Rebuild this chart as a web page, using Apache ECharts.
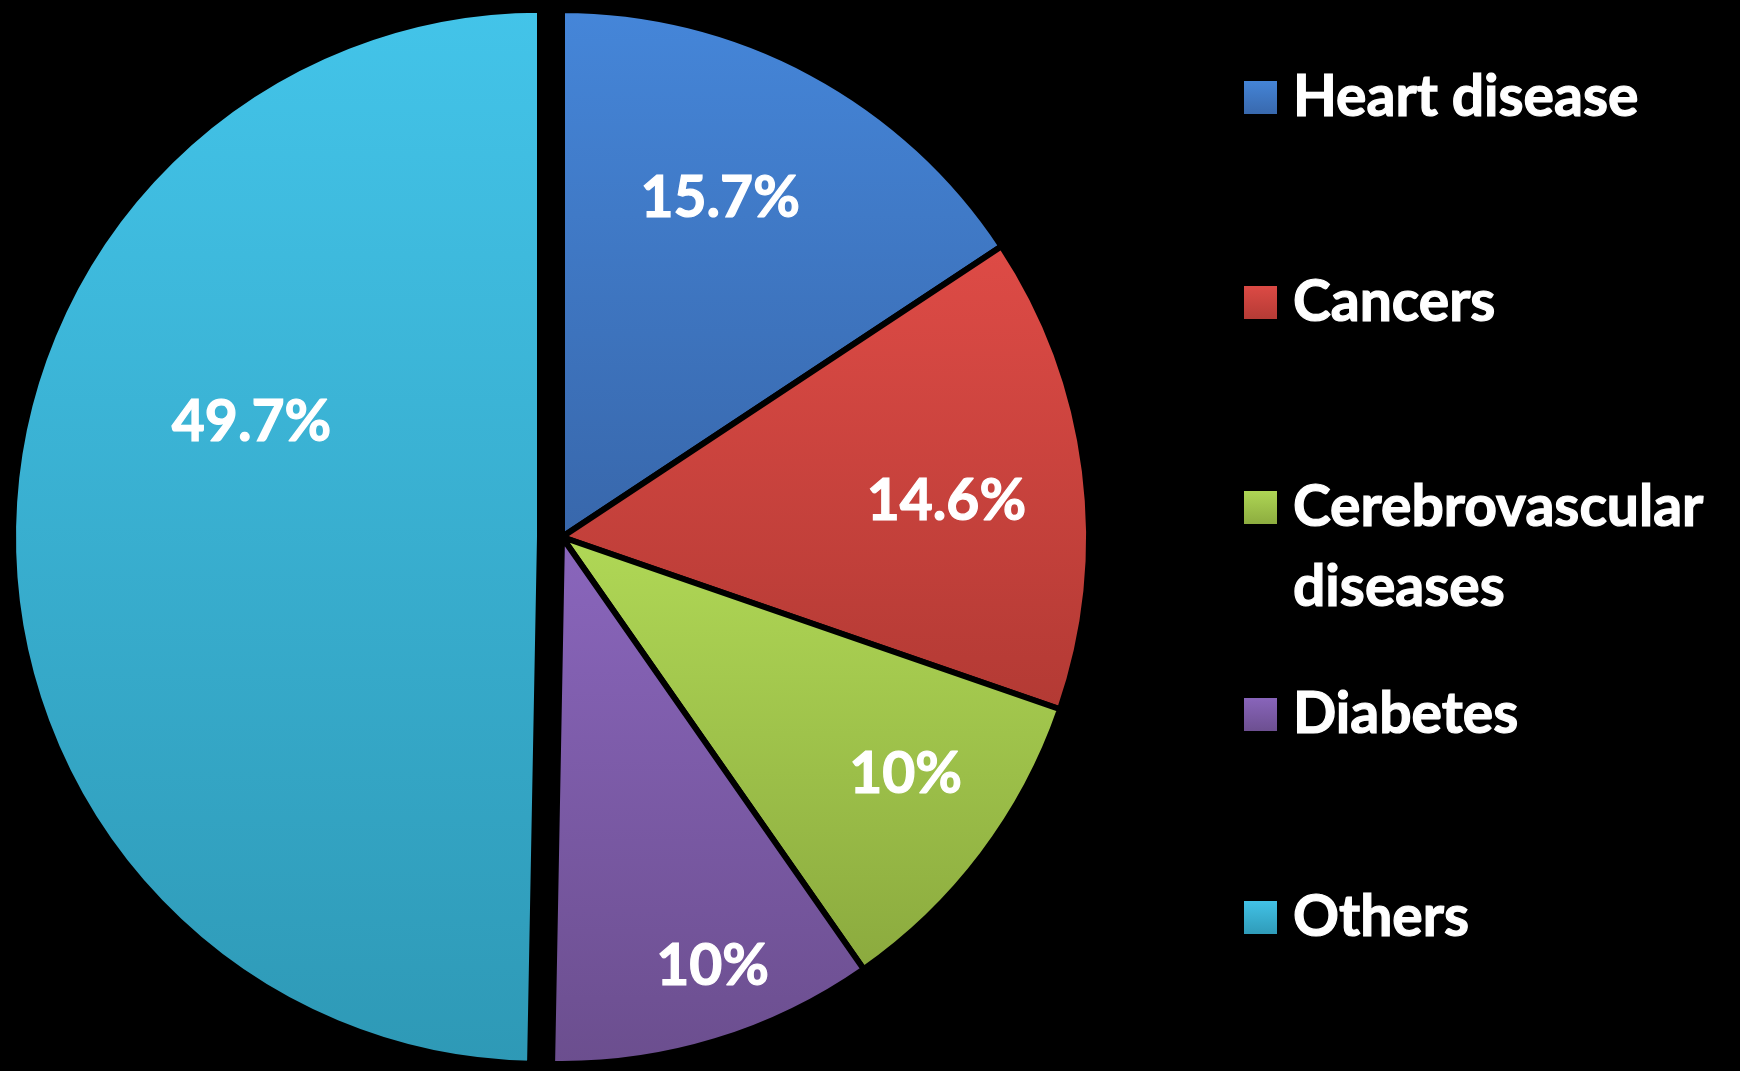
<!DOCTYPE html>
<html><head><meta charset="utf-8">
<script src="https://cdn.jsdelivr.net/npm/echarts@6/dist/echarts.min.js"></script>
<style>html,body{margin:0;padding:0;background:#000}#chart{width:1740px;height:1071px}</style>
</head><body><div id="chart"></div>
<script>
const categories = ['Heart disease', 'Cancers', 'Cerebrovascular diseases', 'Diabetes', 'Others'];
const values = [15.7, 14.6, 10, 10, 49.7];
const valueLabels = ['15.7%', '14.6%', '10%', '10%', '49.7%'];
const colorsTop = ['#4586D9', '#DE4B46', '#B0D856', '#8A66BD', '#43C4E9'];
const colorsBottom = ['#3867AB', '#B33A34', '#8BAA3E', '#6B4E8E', '#2E99B6'];
const explodedSlices = ['Others'];
const labelShift = [[32, -104], [120, -2], [131, 77], [73, 175], [-22, -112]];

function grad(i) {
  return new echarts.graphic.LinearGradient(0, 0, 0, 1, [
    { offset: 0, color: colorsTop[i] },
    { offset: 1, color: colorsBottom[i] }
  ]);
}

const chart = echarts.init(document.getElementById('chart'), null, { renderer: 'canvas' });
const font = 'Lato, "Open Sans", sans-serif';
const legendText = {
  color: '#ffffff', fontSize: 57, fontWeight: 'bold', fontFamily: font,
  lineHeight: 60, padding: [0, 0, 0, 10],
  textBorderColor: '#ffffff', textBorderWidth: 1.2
};
function legendBase(extra) {
  return Object.assign({
    orient: 'vertical', left: 1242, padding: 0, icon: 'rect',
    itemWidth: 35, itemHeight: 35, selectedMode: false,
    formatter: n => n === 'Cerebrovascular diseases' ? '\nCerebrovascular\ndiseases' : n,
    textStyle: legendText
  }, extra);
}

chart.setOption({
  backgroundColor: '#000000',
  animation: false,
  legend: [
    legendBase({ data: [categories[0], categories[1]], top: 67.5, itemGap: 145 }),
    legendBase({ data: [categories[2]], top: 387.5, itemGap: 0,
      textStyle: Object.assign({}, legendText, { lineHeight: 80 }) }),
    legendBase({ data: [categories[3], categories[4]], top: 684.5, itemGap: 143 })
  ],
  series: [{
    type: 'pie',
    center: [562, 537],
    radius: 527,
    startAngle: 90,
    clockwise: true,
    selectedMode: 'multiple',
    selectedOffset: 22,
    avoidLabelOverlap: false,
    emphasis: { disabled: true },
    select: { itemStyle: { borderColor: '#000', borderWidth: 6 } },
    itemStyle: { borderColor: '#000000', borderWidth: 6, borderJoin: 'round' },
    labelLine: { show: false },
    label: {
      show: true, position: 'inside',
      formatter: p => valueLabels[p.dataIndex],
      color: '#ffffff', fontSize: 57, fontWeight: 'bold', fontFamily: font,
      textBorderColor: '#ffffff', textBorderWidth: 1.2
    },
    labelLayout: p => ({ dx: labelShift[p.dataIndex][0], dy: labelShift[p.dataIndex][1] }),
    data: categories.map((c, i) => ({
      name: c, value: values[i],
      selected: explodedSlices.indexOf(c) >= 0,
      itemStyle: { color: grad(i) }
    }))
  }]
});
</script></body></html>
